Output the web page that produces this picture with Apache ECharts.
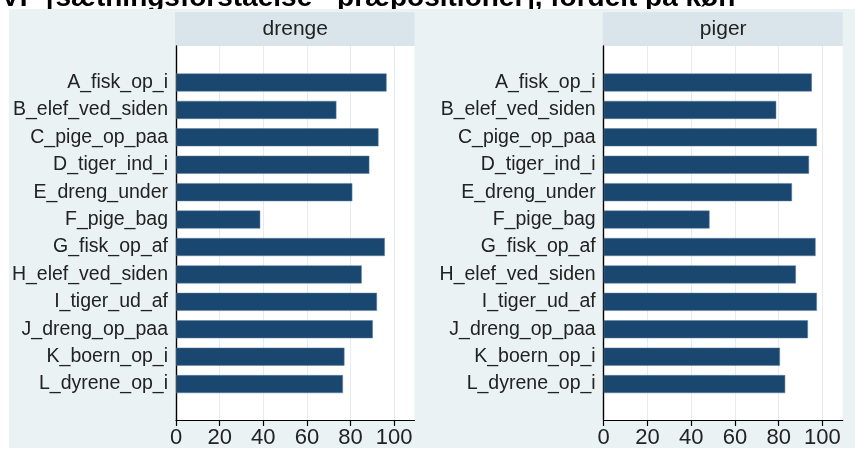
<!DOCTYPE html>
<html>
<head>
<meta charset="utf-8">
<script src="https://cdn.jsdelivr.net/npm/echarts@6/dist/echarts.min.js"></script>
<style>
  html, body { margin: 0; padding: 0; background: #fff; }
  #chart { width: 855px; height: 449px; }
</style>
</head>
<body>
<div id="chart"></div>
<script>
const titleText = 'VP [sætningsforståelse - præpositioner], fordelt på køn';
const categories = [
  'A_fisk_op_i', 'B_elef_ved_siden', 'C_pige_op_paa', 'D_tiger_ind_i',
  'E_dreng_under', 'F_pige_bag', 'G_fisk_op_af', 'H_elef_ved_siden',
  'I_tiger_ud_af', 'J_dreng_op_paa', 'K_boern_op_i', 'L_dyrene_op_i'
];
const panelNames = ['drenge', 'piger'];
const drengeValues = [96.5, 73.5, 92.8, 88.6, 80.8, 38.6, 95.7, 85.1, 92.1, 90.2, 77.2, 76.5];
const pigerValues = [95.2, 78.9, 97.5, 93.9, 86.1, 48.4, 96.9, 87.9, 97.5, 93.4, 80.6, 83.0];
const xTicks = [0, 20, 40, 60, 80, 100];
const xMax = 109.3;

const W = 855, H = 449;
const barColor = '#1a476f';
const bgColor = '#eaf2f3';
const stripColor = '#d9e5eb';
const labelFont = "'Liberation Sans', Arial, sans-serif";

// plot areas: [left, right] in px; shared top/bottom
const panels = [
  { left: 176, right: 414.5, values: drengeValues },
  { left: 603.7, right: 842.7, values: pigerValues }
];
const plotTop = 46, plotBottom = 420;
const barTop = 68.8, barBottom = 397.8;

const grids = [], xAxes = [], yAxes = [], series = [], graphics = [];

graphics.push({
  type: 'text', z: 0,
  style: { text: titleText, x: 1, y: -1.5, font: "bold 28px 'Liberation Sans', Arial, sans-serif",
           fill: '#000', verticalAlign: 'middle' }
});
graphics.push({
  type: 'rect', z: 1,
  shape: { x: 9, y: 9, width: W - 9, height: H - 10 },
  style: { fill: bgColor }
});

panels.forEach((p, i) => {
  // background grid with value grid lines and axes
  grids.push({
    left: p.left, width: p.right - p.left, top: plotTop, height: plotBottom - plotTop,
    show: true, backgroundColor: '#fff', borderWidth: 0, z: 2
  });
  // inset grid for bars
  grids.push({
    left: p.left, width: p.right - p.left, top: barTop, height: barBottom - barTop,
    show: false, z: 2
  });
  const g0 = i * 2, g1 = i * 2 + 1;
  xAxes.push({
    type: 'value', gridIndex: g0, min: 0, max: xMax, interval: 20, z: 3,
    axisLine: { show: true, lineStyle: { color: '#000', width: 1.2 } },
    axisTick: { show: true, length: 6, customValues: xTicks, lineStyle: { color: '#000', width: 1.2 } },
    axisLabel: { customValues: xTicks, color: '#222', fontSize: 22, margin: 7, fontFamily: labelFont },
    splitLine: { show: true, lineStyle: { color: '#e3ecef', width: 1 } }
  });
  xAxes.push({
    type: 'value', gridIndex: g1, min: 0, max: xMax, show: false
  });
  yAxes.push({
    type: 'value', gridIndex: g0, min: 0, max: 1, z: 3,
    axisLine: { show: true, lineStyle: { color: '#000', width: 1.4 } },
    axisTick: { show: false }, axisLabel: { show: false }, splitLine: { show: false }
  });
  yAxes.push({
    type: 'category', gridIndex: g1, data: categories, inverse: true, z: 3,
    axisLine: { show: false }, axisTick: { show: false }, splitLine: { show: false },
    axisLabel: { color: '#222', fontSize: 19.5, margin: 8, fontFamily: labelFont }
  });
  series.push({
    type: 'bar', xAxisIndex: g1, yAxisIndex: g1, data: p.values, z: 4,
    barWidth: 18,
    itemStyle: { color: barColor, borderColor: '#5f7f9c', borderWidth: 0.5 },
    animation: false
  });
  // strip header
  graphics.push({
    type: 'rect', z: 1,
    shape: { x: p.left - 1, y: 12.3, width: p.right - p.left + 1, height: plotTop - 12.3 },
    style: { fill: stripColor }
  });
  graphics.push({
    type: 'text', z: 2,
    style: { text: panelNames[i], x: (p.left + p.right) / 2, y: 29.5,
             align: 'center', verticalAlign: 'middle',
             font: "21px 'Liberation Sans', Arial, sans-serif", fill: '#222' }
  });
});

const chart = echarts.init(document.getElementById('chart'));
chart.setOption({
  animation: false,
  backgroundColor: '#fff',
  graphic: graphics,
  grid: grids,
  xAxis: xAxes,
  yAxis: yAxes,
  series: series
});
</script>
</body>
</html>
